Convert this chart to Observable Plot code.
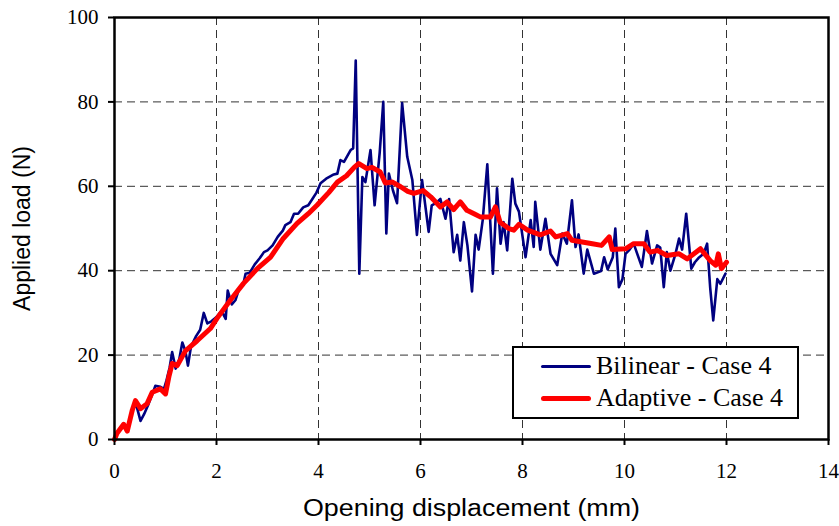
<!DOCTYPE html>
<html>
<head>
<meta charset="utf-8">
<script src="https://cdn.jsdelivr.net/npm/d3@7"></script>
<script src="https://cdn.jsdelivr.net/npm/@observablehq/plot@0.6"></script>
<style>
  body { margin: 0; background: #fff; }
  #wrap { position: relative; width: 839px; height: 526px; }
  #legend {
    position: absolute; left: 512px; top: 346px; width: 283px; height: 69px;
    border: 2px solid #000; background: #fff; box-sizing: content-box;
    font-family: "Liberation Serif", "Times New Roman", serif; font-size: 26px; color: #000;
  }
  .row { position: absolute; left: 0; height: 32px; }
  .swatch { position: absolute; left: 27px; width: 50px; border-radius: 3px; }
  .lbl { position: absolute; left: 82px; top: 0; white-space: nowrap; line-height: 32px; }
</style>
</head>
<body>
<div id="wrap"></div>
<script>
// Bilinear - Case 4 (opening displacement mm, applied load N)
const bilinearX = [0,0.05,0.15,0.25,0.35,0.42,0.51,0.58,0.67,0.75,0.8,0.9,0.97,1.02,1.08,1.13,1.2,1.27,1.33,1.39,1.44,1.5,1.6,1.68,1.75,1.82,1.9,2.0,2.1,2.18,2.22,2.3,2.37,2.45,2.52,2.57,2.65,2.75,2.85,2.93,3.0,3.1,3.2,3.3,3.35,3.45,3.52,3.6,3.7,3.8,3.88,3.96,4.04,4.15,4.3,4.37,4.43,4.5,4.58,4.63,4.68,4.73,4.8,4.86,4.92,5.02,5.1,5.2,5.27,5.33,5.38,5.46,5.54,5.64,5.74,5.84,5.93,6.03,6.16,6.22,6.3,6.39,6.49,6.56,6.65,6.72,6.78,6.85,6.92,7.01,7.08,7.14,7.22,7.31,7.42,7.5,7.57,7.63,7.7,7.8,7.86,7.93,8.06,8.16,8.22,8.25,8.35,8.45,8.55,8.68,8.78,8.87,8.97,9.04,9.1,9.2,9.27,9.4,9.54,9.6,9.67,9.77,9.82,9.89,9.96,10.02,10.1,10.18,10.34,10.44,10.54,10.64,10.7,10.77,10.83,10.9,11.0,11.07,11.13,11.21,11.31,11.38,11.45,11.55,11.62,11.68,11.74,11.82,11.88,11.98];
const bilinearY = [0,1.5,3,2.5,7,8.5,4.4,6,8.5,11,12.7,12.5,12,14,17,20.7,16.8,19,23,21,17.5,22,24.5,26,30,27.5,28,29,30.5,28.6,35.3,32,33,36,36.5,39.3,39.5,41.5,43,44.4,44.8,46,48,49.5,50.8,51.5,53.5,53.5,55,55.5,57,58.5,60.7,61.8,62.8,63,66.2,65.8,67.5,68.6,69,89.8,39.3,62.2,61,68.6,55.5,68,80,48.8,63,59,56,79.7,67,61.5,48.5,61.5,49.2,55.5,56,57,52.3,57,44.4,48.5,42.4,51.5,46,35.1,48.5,45,52,65.2,39.3,59.5,46.4,51.5,44.8,61.8,55.9,54,43.2,52,45.6,56.3,45,52.3,44,41.3,48.8,46.4,56.7,45.6,48.6,39.3,45,39.3,39.9,43.2,40.3,43.2,50,36.1,38,44,45,46.4,40.9,49.4,41.7,46,45.5,36.1,44.4,40,44,47.6,45,53.5,40.5,42,43,44,46.4,36,28.2,38,36.9,39.3];

// Adaptive - Case 4
const adaptiveX = [0,0.05,0.18,0.25,0.35,0.41,0.51,0.64,0.74,0.9,1.0,1.07,1.13,1.23,1.39,1.62,1.88,2.01,2.27,2.53,2.8,3.06,3.3,3.58,3.8,3.97,4.2,4.37,4.55,4.7,4.79,4.95,5.05,5.21,5.31,5.45,5.61,5.75,5.87,6.05,6.2,6.39,6.52,6.65,6.78,6.91,7.05,7.18,7.37,7.47,7.56,7.73,7.83,7.93,8.1,8.35,8.55,8.65,8.88,8.97,9.17,9.37,9.55,9.7,9.76,10.02,10.18,10.38,10.5,10.65,10.83,11.07,11.23,11.49,11.68,11.79,11.84,11.9,12.0];
const adaptiveY = [0,1.5,3.6,2,7,9.2,7.3,8.5,11.2,12,10.8,15.1,18,17.5,21,23.4,26.3,28.7,33,37,40.5,43.2,47.5,51.2,53.5,55.5,58.5,61,62.5,64.5,65.4,64.2,64.5,63.4,60.8,61,59.9,58.8,58.3,59,57.5,55.1,56.3,54.5,56.3,54.3,53.5,52.7,52.7,55.1,51.5,50,49.6,51,49.6,48.5,49.4,48,48.8,47.2,46.8,46.4,46,48,45,45.2,46.4,46.4,44.4,44.8,43.6,44,42.8,45.2,42.4,41.3,44,40.5,42];

const xTicks = [0,2,4,6,8,10,12,14];
const yTicks = [0,20,40,60,80,100];
const seriesNames = ["Bilinear - Case 4", "Adaptive - Case 4"];
const seriesColors = ["#000080", "#ff0000"];

const bilinear = bilinearX.map((x, i) => ({x, y: bilinearY[i]}));
const adaptive = adaptiveX.map((x, i) => ({x, y: adaptiveY[i]}));

const chart = Plot.plot({
  width: 839,
  height: 526,
  marginLeft: 114,
  marginRight: 11,
  marginTop: 17,
  marginBottom: 87,
  style: {background: "#fff", color: "#000", overflow: "visible"},
  x: {domain: [0, 14]},
  y: {domain: [0, 100]},
  marks: [
    Plot.gridX(xTicks.slice(1, -1), {stroke: "#333", strokeOpacity: 1, strokeWidth: 1, strokeDasharray: "8,5"}),
    Plot.gridY(yTicks.slice(1, -1), {stroke: "#333", strokeOpacity: 1, strokeWidth: 1, strokeDasharray: "8,5"}),
    Plot.line(bilinear, {x: "x", y: "y", stroke: seriesColors[0], strokeWidth: 2.6, strokeLinejoin: "round"}),
    Plot.line(adaptive, {x: "x", y: "y", stroke: seriesColors[1], strokeWidth: 5, strokeLinejoin: "round", strokeLinecap: "round"}),
    Plot.frame({stroke: "#000", strokeWidth: 2.5}),
    Plot.axisX(xTicks, {
      tickSize: 6, tickPadding: 18, strokeWidth: 2,
      fontFamily: "Liberation Serif", fontSize: 21,
      label: "Opening displacement (mm)", labelAnchor: "center", labelArrow: "none", labelOffset: 76
    }),
    Plot.axisY(yTicks, {
      tickSize: 6, tickPadding: 10, strokeWidth: 2,
      fontFamily: "Liberation Serif", fontSize: 21,
      label: "Applied load (N)", labelAnchor: "center", labelArrow: "none", labelOffset: 101
    })
  ]
});

// axis titles in sans-serif, as in the reference
chart.querySelectorAll("g[aria-label='x-axis label'] text").forEach(t => {
  t.setAttribute("font-family", "Liberation Sans, Arial, sans-serif");
  t.setAttribute("font-size", "23");
  t.setAttribute("textLength", "337");
  t.setAttribute("lengthAdjust", "spacingAndGlyphs");
});
chart.querySelectorAll("g[aria-label='y-axis label'] text").forEach(t => {
  t.setAttribute("font-family", "Liberation Sans, Arial, sans-serif");
  t.setAttribute("font-size", "23");
});

const wrap = document.getElementById("wrap");
wrap.appendChild(chart);

const legend = document.createElement("div");
legend.id = "legend";
seriesNames.forEach((name, i) => {
  const row = document.createElement("div");
  row.className = "row";
  row.style.top = (2 + i * 32) + "px";
  row.style.width = "100%";
  const sw = document.createElement("div");
  sw.className = "swatch";
  sw.style.height = (i === 0 ? 2.5 : 5) + "px";
  sw.style.top = (i === 0 ? 15 : 14) + "px";
  sw.style.background = seriesColors[i];
  const lb = document.createElement("div");
  lb.className = "lbl";
  lb.textContent = name;
  row.appendChild(sw);
  row.appendChild(lb);
  legend.appendChild(row);
});
wrap.appendChild(legend);
</script>
</body>
</html>
